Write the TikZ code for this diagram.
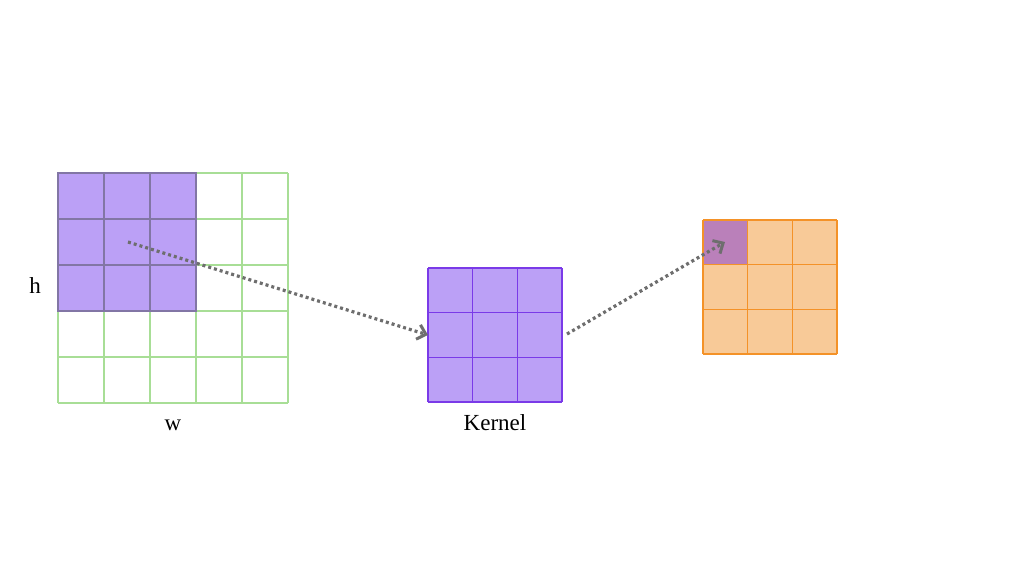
\documentclass[tikz,border=0pt]{standalone}
\usepackage{fontspec}
\setmainfont{Liberation Serif}
\usetikzlibrary{arrows.meta}
\definecolor{gridgreen}{RGB}{168,222,150}
\definecolor{kfill}{RGB}{187,160,246}
\definecolor{kline}{RGB}{122,58,232}
\definecolor{pline}{RGB}{130,118,165}
\definecolor{ofill}{RGB}{248,202,152}
\definecolor{oline}{RGB}{244,146,40}
\definecolor{ocell}{RGB}{186,128,186}
\definecolor{arrowgray}{RGB}{110,110,110}
\tikzset{
  lbl/.style={font=\fontsize{23}{27}\selectfont, inner sep=0pt},
  conn/.style={draw=arrowgray, line width=3.2pt, dash pattern=on 3pt off 3pt, -{Straight Barb[length=8pt,width=15pt,line width=3pt]}},
}
\begin{document}
\begin{tikzpicture}[x=1pt,y=-1pt]
\useasboundingbox (0,0) rectangle (1024,576);
% input grid
\foreach \i in {0,...,5}{
  \draw[gridgreen, line width=1.3pt] ({58+\i*46},173) -- ({58+\i*46},403);
  \draw[gridgreen, line width=1.3pt] (58,{173+\i*46}) -- (288,{173+\i*46});
}
\fill[kfill] (58,173) rectangle (196,311);
\draw[pline, line width=1.3pt] (104,173) -- (104,311) (150,173) -- (150,311)
  (58,219) -- (196,219) (58,265) -- (196,265);
\draw[pline, line width=1.3pt] (58,173) rectangle (196,311);
\coordinate (src) at (128,242);
% kernel
\fill[kfill] (428,268) rectangle (562,402);
\foreach \i in {0,1,2,3}{
  \draw[kline, line width=1.6pt] ({428+\i*44.67},268) -- ({428+\i*44.67},402);
  \draw[kline, line width=1.6pt] (428,{268+\i*44.67}) -- (562,{268+\i*44.67});
}
\coordinate (kin) at (428,335);
\coordinate (kout) at (567,334);
% output
\fill[ofill] (703,220) rectangle (837,354);
\fill[ocell] (703,220) rectangle (747.67,264.67);
\foreach \i in {0,1,2,3}{
  \draw[oline, line width=1.6pt] ({703+\i*44.67},220) -- ({703+\i*44.67},354);
  \draw[oline, line width=1.6pt] (703,{220+\i*44.67}) -- (837,{220+\i*44.67});
}
\coordinate (oin) at (725,242);
% labels
\node[lbl] (h) at (35,286) {h};
\node[lbl] (w) at (173,425) {w};
\node[lbl] (k) at (495,423) {Kernel};
% arrows
\draw[conn] (src) -- (kin);
\draw[conn] (kout) -- (oin);
\end{tikzpicture}
\end{document}
